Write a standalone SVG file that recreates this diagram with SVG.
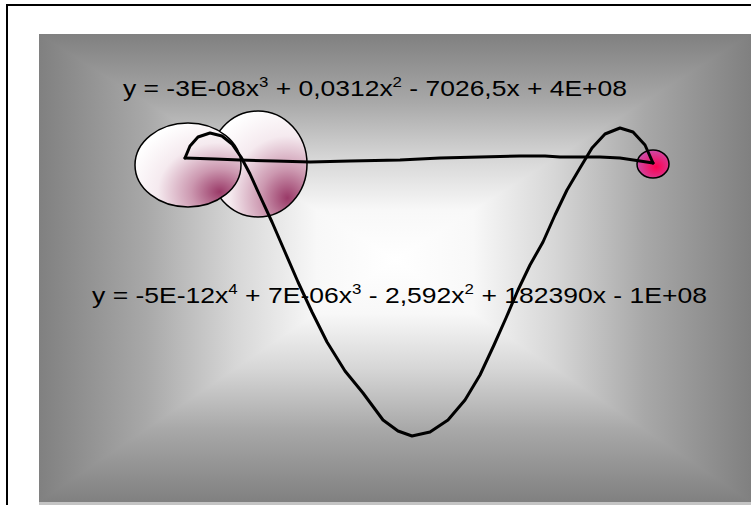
<svg xmlns="http://www.w3.org/2000/svg" width="751" height="505" viewBox="0 0 751 505">
<style>
.eq{font-family:"Liberation Sans",Arial,sans-serif;font-size:22px;fill:#000}
.sup{font-size:14px}
.curve{fill:none;stroke:#000;stroke-width:3;stroke-linejoin:round;stroke-linecap:round}
.bub{stroke:#000;stroke-width:1.5}
</style>
<defs>
<linearGradient id="gL" gradientUnits="userSpaceOnUse" x1="39" y1="0" x2="395" y2="0">
<stop offset="0" stop-color="#808080"/><stop offset="0.3" stop-color="#a8a8a8"/><stop offset="0.55" stop-color="#d6d6d6"/><stop offset="0.78" stop-color="#f8f8f8"/><stop offset="1" stop-color="#fff"/>
</linearGradient>
<linearGradient id="gR" gradientUnits="userSpaceOnUse" x1="751" y1="0" x2="395" y2="0">
<stop offset="0" stop-color="#808080"/><stop offset="0.3" stop-color="#a8a8a8"/><stop offset="0.55" stop-color="#d6d6d6"/><stop offset="0.78" stop-color="#f8f8f8"/><stop offset="1" stop-color="#fff"/>
</linearGradient>
<linearGradient id="gT" gradientUnits="userSpaceOnUse" x1="0" y1="34" x2="0" y2="260">
<stop offset="0" stop-color="#808080"/><stop offset="0.3" stop-color="#a8a8a8"/><stop offset="0.55" stop-color="#d6d6d6"/><stop offset="0.78" stop-color="#f8f8f8"/><stop offset="1" stop-color="#fff"/>
</linearGradient>
<linearGradient id="gB" gradientUnits="userSpaceOnUse" x1="0" y1="502" x2="0" y2="260">
<stop offset="0" stop-color="#808080"/><stop offset="0.3" stop-color="#a8a8a8"/><stop offset="0.55" stop-color="#d6d6d6"/><stop offset="0.78" stop-color="#f8f8f8"/><stop offset="1" stop-color="#fff"/>
</linearGradient>
<radialGradient id="bubG" cx="0.8" cy="0.82" r="0.9" fx="0.8" fy="0.82">
<stop offset="0" stop-color="#9a3a68"/><stop offset="0.3" stop-color="#cc98b0"/><stop offset="0.65" stop-color="#f5eaef"/><stop offset="1" stop-color="#ffffff"/>
</radialGradient>
<radialGradient id="dotG" cx="0.6" cy="0.6" r="0.6">
<stop offset="0" stop-color="#ff0050"/><stop offset="1" stop-color="#cc4aa6"/>
</radialGradient>
</defs>
<rect width="751" height="505" fill="#fff"/>
<g id="frame">
<line x1="7" y1="5" x2="751" y2="5" stroke="#000" stroke-width="2"/>
<line x1="7" y1="4" x2="7" y2="505" stroke="#000" stroke-width="2"/>
</g>
<g id="plot-area">
<rect x="39" y="34" width="712" height="226" fill="url(#gT)"/>
<rect x="39" y="260" width="712" height="242" fill="url(#gB)"/>
<polygon points="39,34 39,502 395,260" fill="url(#gL)"/>
<polygon points="751,34 751,502 395,260" fill="url(#gR)"/>
<rect x="39" y="502" width="712" height="3" fill="#c4c4c4"/>
</g>
<g id="bubbles">
<ellipse class="bub" cx="258" cy="164" rx="49" ry="53" fill="url(#bubG)"/>
<ellipse class="bub" cx="188" cy="165" rx="53" ry="42" fill="url(#bubG)"/>
<ellipse class="bub" cx="653" cy="164" rx="16" ry="14" fill="url(#dotG)"/>
</g>
<g id="connectors">
<path class="curve" d="M185,158 L215,159 L240,160 L275,161 L310,162 L350,161 L400,160 L440,158 L480,157 L520,156 L545,156 L560,157 L600,157 L620,158 L640,161 L653,163"/>
<path class="curve" d="M185,158 L190,146 L198,137 L210,133 L222,136 L232,144 L241,157 L250,174 L260,196 L272,222 L285,252 L298,282 L312,312 L327,342 L345,371 L363,393 L383,420 L398,431 L412,436 L430,432 L448,420 L465,400 L480,375 L494,345 L506,318 L518,290 L530,265 L543,242 L555,215 L567,190 L580,168 L592,148 L605,134 L620,128 L633,132 L645,145 L653,163"/>
</g>
<g id="labels">
<text class="eq" x="123" y="96" textLength="504" lengthAdjust="spacingAndGlyphs">y = -3E-08x<tspan class="sup" dy="-9">3</tspan><tspan dy="9"> + 0,0312x</tspan><tspan class="sup" dy="-9">2</tspan><tspan dy="9"> - 7026,5x + 4E+08</tspan></text>
<text class="eq" x="92" y="303" textLength="615" lengthAdjust="spacingAndGlyphs">y = -5E-12x<tspan class="sup" dy="-9">4</tspan><tspan dy="9"> + 7E-06x</tspan><tspan class="sup" dy="-9">3</tspan><tspan dy="9"> - 2,592x</tspan><tspan class="sup" dy="-9">2</tspan><tspan dy="9"> + 182390x - 1E+08</tspan></text>
</g>
</svg>
